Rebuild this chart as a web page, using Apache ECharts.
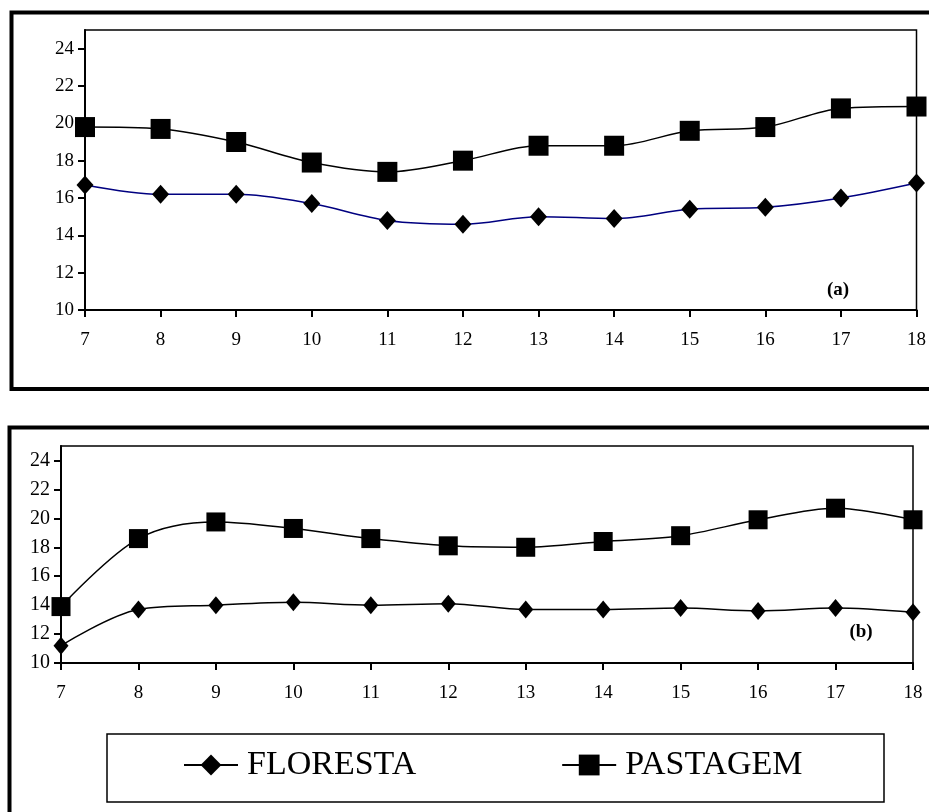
<!DOCTYPE html>
<html><head><meta charset="utf-8">
<script src="https://cdn.jsdelivr.net/npm/echarts@6/dist/echarts.min.js"></script>
<style>html,body{margin:0;padding:0;background:#fff}#c{width:929px;height:812px}</style>
</head><body><div id="c"></div>
<script>
const hours = [7, 8, 9, 10, 11, 12, 13, 14, 15, 16, 17, 18];
const yTicks = [10, 12, 14, 16, 18, 20, 22, 24];
const florestaA = [16.7, 16.2, 16.2, 15.7, 14.8, 14.6, 15.0, 14.9, 15.4, 15.5, 16.0, 16.8];
const pastagemA = [19.8, 19.7, 19.0, 17.9, 17.4, 18.0, 18.8, 18.8, 19.6, 19.8, 20.8, 20.9];
const florestaB = [11.2, 13.7, 14.0, 14.2, 14.0, 14.1, 13.7, 13.7, 13.8, 13.6, 13.8, 13.5];
const pastagemB = [13.9, 18.6, 19.75, 19.3, 18.6, 18.1, 18.0, 18.4, 18.8, 19.9, 20.7, 19.9];
const seriesNames = ['FLORESTA', 'PASTAGEM'];
const panelLabels = ['(a)', '(b)'];

const FONT = '"Times New Roman", "Liberation Serif", serif';
const pairs = v => hours.map((h, i) => [h, v[i]]);

function xAxis(gi, fs) {
  return {
    type: 'value', gridIndex: gi, min: hours[0], max: hours[hours.length - 1], interval: 1,
    axisLine: { lineStyle: { color: '#000', width: 2 } },
    axisTick: { show: true, length: 7, lineStyle: { color: '#000', width: 2 } },
    axisLabel: { color: '#000', fontFamily: FONT, fontSize: fs, margin: 21 },
    splitLine: { show: false }
  };
}
function yAxis(gi, fs) {
  return {
    type: 'value', gridIndex: gi, min: 10, max: 25, interval: 2,
    axisLine: { show: true, lineStyle: { color: '#000', width: 2 } },
    axisTick: { show: true, length: 7, customValues: yTicks, lineStyle: { color: '#000', width: 2 } },
    axisLabel: { color: '#000', fontFamily: FONT, fontSize: fs, margin: 11, customValues: yTicks },
    splitLine: { show: false }
  };
}
function line(name, data, gi, symbol, size, lineColor) {
  return {
    name, type: 'line', xAxisIndex: gi, yAxisIndex: gi, data: pairs(data),
    smooth: 0.33, symbol, symbolSize: size, showSymbol: true,
    itemStyle: { color: '#000' },
    lineStyle: { color: lineColor, width: 1.5 },
    emphasis: { disabled: true }, animation: false, z: 3
  };
}

const chart = echarts.init(document.getElementById('c'), null, { renderer: 'canvas' });
chart.setOption({
  animation: false,
  backgroundColor: '#fff',
  grid: [
    { left: 85, top: 30, right: 8, bottom: 502, show: true, borderColor: '#000', borderWidth: 1.5 },
    { left: 61, top: 446, right: 16, bottom: 149, show: true, borderColor: '#000', borderWidth: 1.5 }
  ],
  xAxis: [xAxis(0, 19), xAxis(1, 19)],
  yAxis: [yAxis(0, 19), yAxis(1, 20)],
  legend: {
    left: 183, top: 748, padding: 0, itemGap: 145,
    itemWidth: 54, itemHeight: 26,
    textStyle: { fontFamily: FONT, fontSize: 34, color: '#000', padding: [0, 0, 0, 4] },
    data: [
      { name: seriesNames[0], lineStyle: { color: '#000' } },
      { name: seriesNames[1], lineStyle: { color: '#000' } }
    ],
    selectedMode: false
  },
  series: [
    line(seriesNames[0], florestaA, 0, 'diamond', [17, 19], '#000080'),
    line(seriesNames[1], pastagemA, 0, 'rect', [20, 20], '#000'),
    line(seriesNames[0], florestaB, 1, 'diamond', [15, 18], '#000'),
    line(seriesNames[1], pastagemB, 1, 'rect', [19, 19], '#000')
  ],
  graphic: [
    { type: 'rect', silent: true, shape: { x: 11.5, y: 12.5, width: 940, height: 376.5 }, style: { fill: 'none', stroke: '#000', lineWidth: 4 } },
    { type: 'rect', silent: true, shape: { x: 9.5, y: 427.5, width: 940, height: 420 }, style: { fill: 'none', stroke: '#000', lineWidth: 4 } },
    { type: 'rect', silent: true, shape: { x: 107, y: 734, width: 777, height: 68 }, style: { fill: 'none', stroke: '#000', lineWidth: 1.5 } },
    { type: 'text', silent: true, x: 838, y: 290, style: { text: panelLabels[0], font: 'bold 19px ' + FONT, fill: '#000', align: 'center', verticalAlign: 'middle' } },
    { type: 'text', silent: true, x: 861, y: 632, style: { text: panelLabels[1], font: 'bold 19px ' + FONT, fill: '#000', align: 'center', verticalAlign: 'middle' } }
  ]
});
</script></body></html>
